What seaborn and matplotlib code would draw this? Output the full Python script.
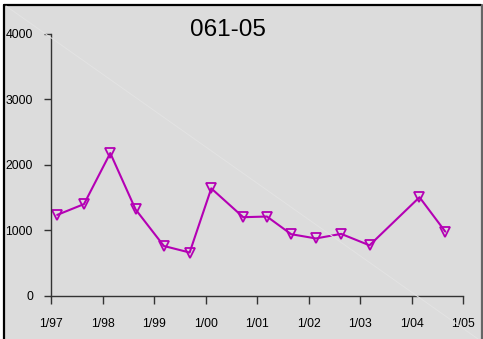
import matplotlib
matplotlib.use("Agg")
import matplotlib.pyplot as plt
from matplotlib.lines import Line2D
from matplotlib.patches import Rectangle
import seaborn as sns
import pandas as pd

# Data (years since Jan 1997, value)
years = [0.12, 0.64, 1.15, 1.64, 2.19, 2.69, 3.11, 3.73, 4.19, 4.66, 5.14, 5.63, 6.18, 7.15, 7.65]
values = [1235, 1400, 2180, 1320, 760, 660, 1640, 1200, 1210, 940, 875, 945, 770, 1505, 980]
tick_labels = ["1/97", "1/98", "1/99", "1/00", "1/01", "1/02", "1/03", "1/04", "1/05"]
y_ticks = [0, 1000, 2000, 3000, 4000]
title = "061-05"

sns.set_theme(style="white")
plt.rcParams['font.family'] = ['Liberation Sans', 'DejaVu Sans']

W, H = 483, 339
fig = plt.figure(figsize=(W / 100, H / 100), dpi=100)
fig.patch.set_facecolor("white")

# panel background
fig.add_artist(Rectangle((4 / W, 0), (481 - 4) / W, (H - 5) / H, transform=fig.transFigure,
                         facecolor="#dcdcdc", edgecolor="none", zorder=0))
fig.add_artist(Line2D([4 / W, 4 / W], [0, 1 - 5 / H], transform=fig.transFigure, color="black", lw=1.6))
fig.add_artist(Line2D([4 / W, 481 / W], [1 - 5 / H, 1 - 5 / H], transform=fig.transFigure, color="black", lw=1.6))
fig.add_artist(Line2D([481.5 / W, 481.5 / W], [0, 1 - 5 / H], transform=fig.transFigure, color="#666666", lw=1.6))
# faint diagonal
fig.add_artist(Line2D([6 / W, 478 / W], [1 - 6 / H, 0], transform=fig.transFigure, color="#e3e3e3", lw=0.7))

ax = fig.add_axes([51 / W, 1 - 295.7 / H, (463.3 - 51) / W, (295.7 - 34) / H])
ax.set_facecolor("none")

df = pd.DataFrame({"t": years, "v": values})
color = "#b400b4"
sns.lineplot(data=df, x="t", y="v", ax=ax, color=color, lw=1.5, marker="v", markersize=7,
             markerfacecolor="none", markeredgecolor=color, markeredgewidth=1.3)

ax.set_xlim(0, 8)
ax.set_ylim(0, 4000)
ax.set_xticks(range(9))
ax.set_xticklabels(tick_labels)
ax.set_yticks(y_ticks)
ax.set_yticklabels([str(v) for v in y_ticks])
ax.set_xlabel("")
ax.set_ylabel("")
for s in ["top", "right"]:
    ax.spines[s].set_visible(False)
for s in ["left", "bottom"]:
    ax.spines[s].set_color("#333333")
    ax.spines[s].set_linewidth(1.0)
ax.tick_params(axis="x", direction="out", length=6, width=1, color="#333333", pad=10, labelsize=8.8, labelcolor="black")
ax.tick_params(axis="y", direction="out", length=5, width=1, color="#333333", pad=8, labelsize=8.8, labelcolor="black")
ax.tick_params(bottom=True, left=True)

fig.text(228 / W, 1 - 30.5 / H, title, ha="center", va="center", fontsize=17.5, color="black")

fig.savefig("out.png", dpi=100)
